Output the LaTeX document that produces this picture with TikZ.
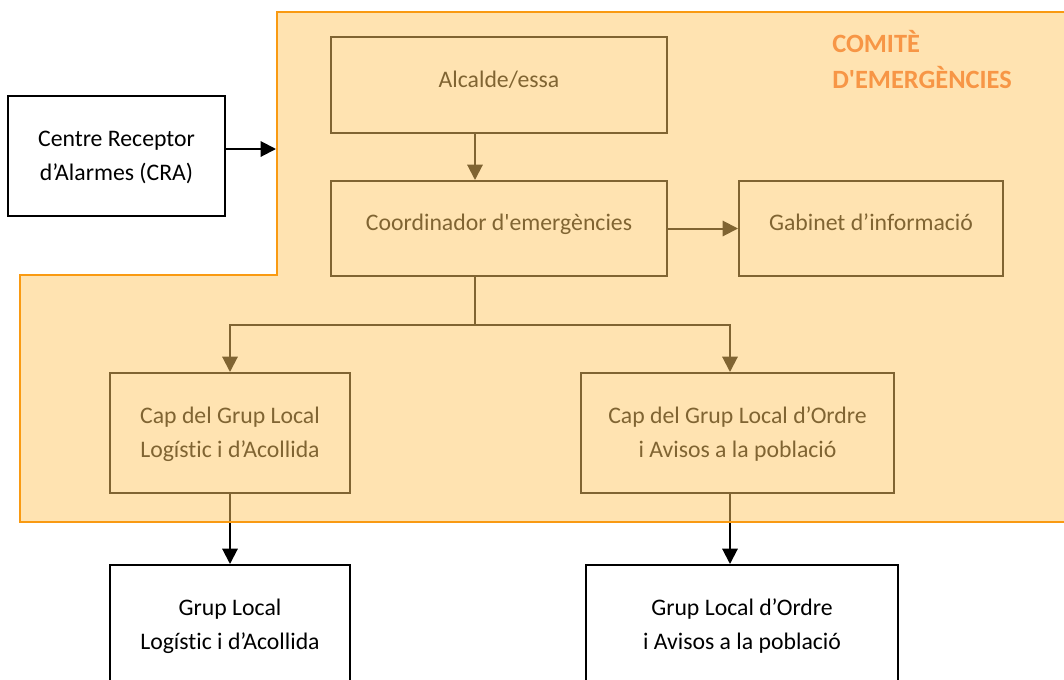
\documentclass[tikz,border=0pt]{standalone}
\usepackage{fontspec}
\setmainfont{Carlito}[Ligatures={TeXOff,NoCommon}]
\usetikzlibrary{arrows.meta}
\definecolor{ovl}{HTML}{FFC864}
\definecolor{oline}{HTML}{F99A12}
\definecolor{ttl}{HTML}{F79646}
\begin{document}
\begin{tikzpicture}[x=0.75pt,y=-0.75pt,
  box/.style={draw=black, fill=white, line width=1.5pt, inner sep=0pt, align=center,
    font=\fontsize{17.8}{25.5}\selectfont},
  oneline/.style={text height=14pt, text depth=11pt},
  twoline/.style={text height=40pt, text depth=4pt},
  arr/.style={draw=black, line width=1.5pt, -{Triangle[length=11.5pt,width=11.5pt]}},
  lin/.style={draw=black, line width=1.5pt}
]
\clip (0,0) rectangle (1064,679);
% boxes
\node[box, oneline, minimum width=252pt, minimum height=72pt] (alc) at (499,85) {Alcalde/essa};
\node[box, oneline, minimum width=252pt, minimum height=71.25pt] (coord) at (499,228.5) {Coordinador d'emergències};
\node[box, oneline, minimum width=198pt, minimum height=71.25pt] (gab) at (871,228.5) {Gabinet d’informació};
\node[box, twoline, minimum width=162.75pt, minimum height=90pt] (cra) at (116.5,156) {Centre Receptor\\d’Alarmes (CRA)};
\node[box, twoline, minimum width=180pt, minimum height=90pt] (capL) at (230,433) {Cap del Grup Local\\Logístic i d’Acollida};
\node[box, twoline, minimum width=234.75pt, minimum height=90pt] (capO) at (737.5,433) {Cap del Grup Local d’Ordre\\i Avisos a la població};
\node[box, twoline, minimum width=180pt, minimum height=90pt] (grpL) at (230,625) {Grup Local\\Logístic i d’Acollida};
\node[box, twoline, minimum width=234pt, minimum height=90pt] (grpO) at (742,625) {Grup Local d’Ordre\\i Avisos a la població};
% connector points
\coordinate (j1) at (475,325);
\coordinate (j2) at (730,325);
\coordinate (cin) at (276,149);
% connectors
\draw[arr] (alc.south -| j1) -- (coord.north -| j1);
\draw[arr] (coord.east) -- (gab.west);
\draw[lin] (coord.south -| j1) -- (j1);
\draw[arr] (j1) -| (capL.north);
\draw[arr] (j1) -- (j2) -- (capO.north -| j2);
\draw[arr] (capL.south) -- (grpL.north);
\draw[arr] (capO.south -| j2) -- (grpO.north -| j2);
\draw[arr] (cra.east |- cin) -- (cin);
% committee region overlay
\path[fill=ovl, fill opacity=0.5, draw=oline, line width=1.5pt]
  (277,12) -- (1075,12) -- (1075,522) -- (20,522) -- (20,275) -- (277,275) -- cycle;
\node[anchor=base west, align=left, inner sep=0pt, text=ttl,
  font=\fontsize{19.8}{27}\selectfont\bfseries] (title) at (832,88) {COMITÈ\\D'EMERGÈNCIES};
\end{tikzpicture}
\end{document}
